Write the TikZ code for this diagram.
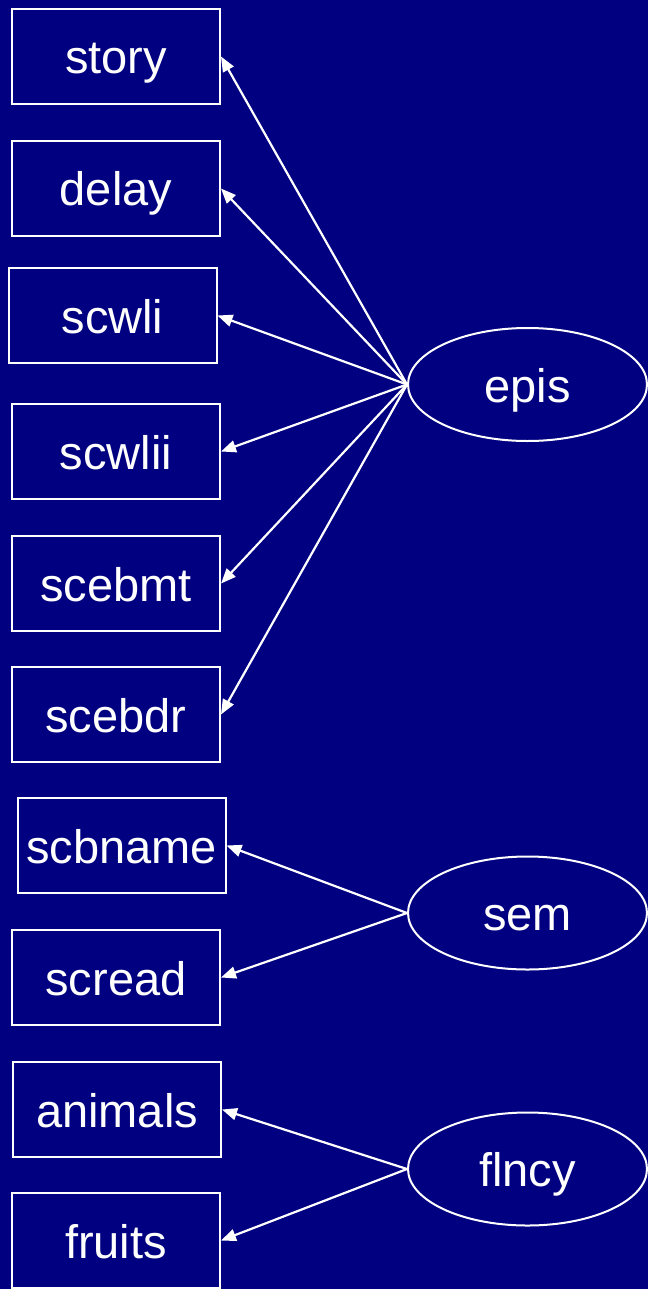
\documentclass[tikz,border=0pt]{standalone}
\usepackage{fontspec}
\setmainfont{Liberation Sans}
\usetikzlibrary{arrows.meta, shapes.geometric}
\definecolor{cnavy}{HTML}{000080}
\tikzset{
  every picture/.style={line width=2pt},
  ind/.style={draw=white, rectangle, minimum width=208pt, minimum height=95pt, inner sep=0pt, text=white, text height=35pt, text depth=0pt, font=\fontsize{47}{52}\selectfont},
  lat/.style={draw=white, ellipse, minimum width=239pt, minimum height=113pt, inner sep=0pt, text=white, text height=35pt, text depth=0pt, font=\fontsize{47}{52}\selectfont},
  load/.style={-{Triangle[length=15pt, width=12pt]}, draw=white, line width=2.2pt},
}

\begin{document}
\begin{tikzpicture}[x=1pt, y=-1pt]
  \fill[cnavy] (0,0) rectangle (648,1289);
  \useasboundingbox (0,0) rectangle (648,1289);
  % indicators
  \node[ind] (story)   at (116,56.5)   {story};
  \node[ind] (delay)   at (116,188.5)  {delay};
  \node[ind] (scwli)   at (112.5,315.5) {scwli};
  \node[ind] (scwlii)  at (116,451.5)  {scwlii};
  \node[ind] (scebmt)  at (116,583.5)  {scebmt};
  \node[ind] (scebdr)  at (116,714.5)  {scebdr};
  \node[ind] (scbname) at (121.5,845.5) {scbname};
  \node[ind] (scread)  at (116,977.5)  {scread};
  \node[ind] (animals) at (117,1109.5) {animals};
  \node[ind] (fruits)  at (116,1240.5) {fruits};
  % factors
  \node[lat] (epis)  at (527.5,384.5) {epis};
  \node[lat] (sem)   at (527.5,913)   {sem};
  \node[lat] (flncy) at (527.5,1169)  {flncy};
  \foreach \n in {story,delay,scwli,scwlii,scebmt,scebdr} \draw[load] (epis.west) -- (\n.east);
  \foreach \n in {scbname,scread} \draw[load] (sem.west) -- (\n.east);
  \foreach \n in {animals,fruits} \draw[load] (flncy.west) -- (\n.east);
\end{tikzpicture}
\end{document}
